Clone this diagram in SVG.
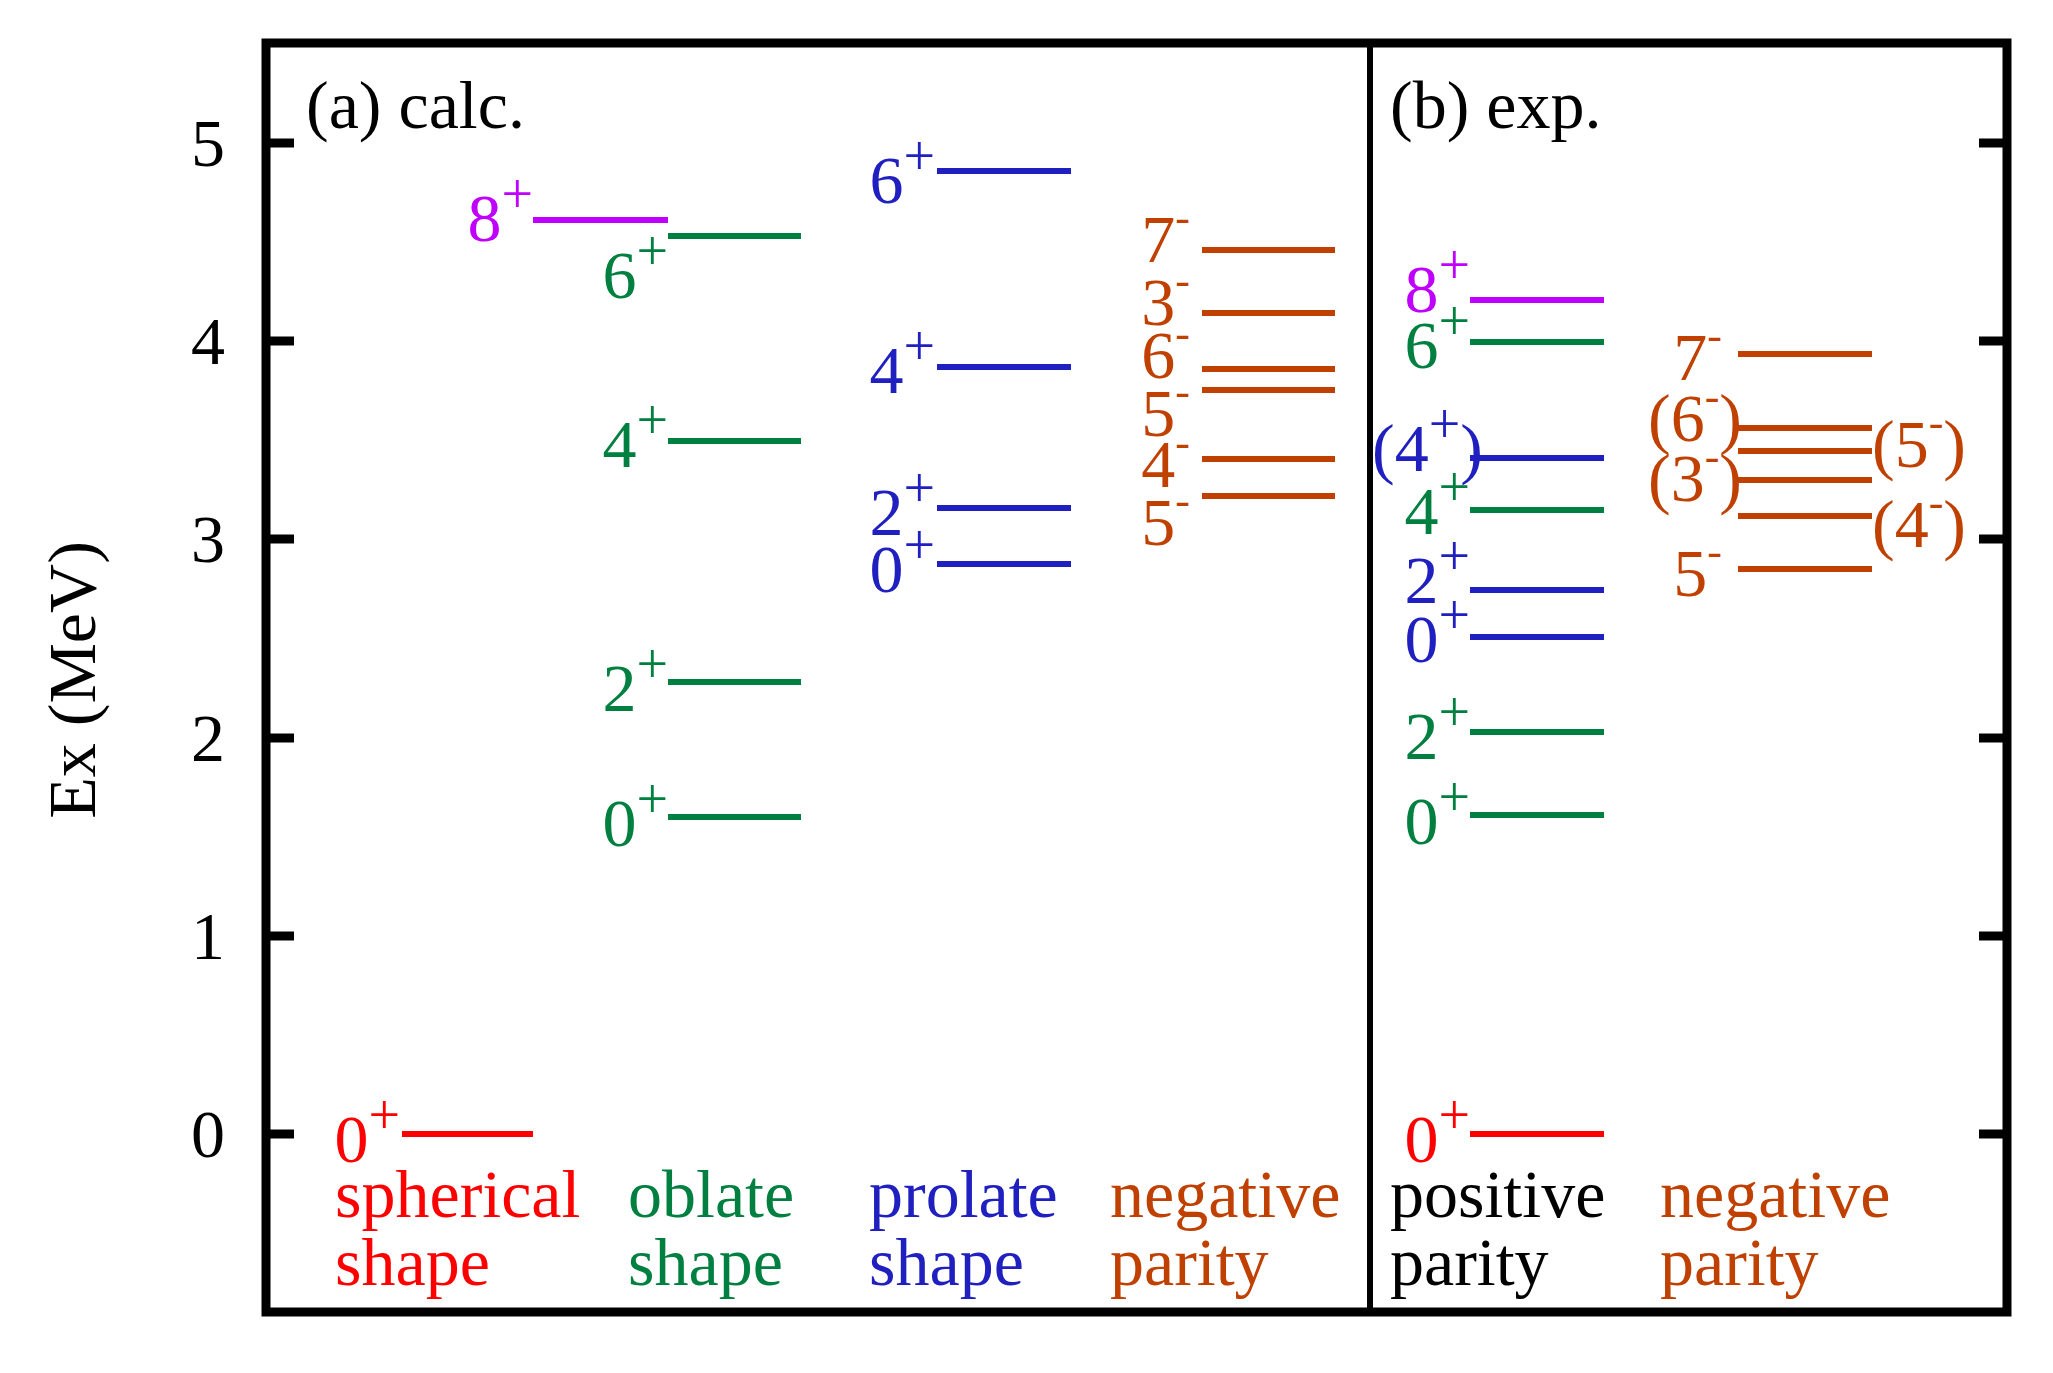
<svg xmlns="http://www.w3.org/2000/svg" width="2053" height="1373" viewBox="0 0 2053 1373">
<style>
text{font-family:"Liberation Serif","Times New Roman",serif;font-size:68px}
.s{font-size:56px}
.n{font-size:44px}
.e{text-anchor:end}
.m{text-anchor:middle}
.r{fill:#ff0000}.g{fill:#008040}.b{fill:#2020c0}.o{fill:#c04000}.p{fill:#c000ff}.k{fill:#000}
line{stroke-width:6}
.R{stroke:#ff0000}.G{stroke:#008040}.B{stroke:#2020c0}.O{stroke:#c04000}.P{stroke:#c000ff}
.t{stroke:#000;stroke-width:9}
</style>
<rect x="0" y="0" width="2053" height="1373" fill="#fff"/>
<g id="frame">
<rect x="266" y="43" width="1741" height="1269" fill="none" stroke="#000" stroke-width="9"/>
<line x1="1370" y1="43" x2="1370" y2="1312" stroke="#000" stroke-width="4"/>
<line class="t" x1="266" y1="1134" x2="294" y2="1134"/><line class="t" x1="266" y1="936" x2="294" y2="936"/>
<line class="t" x1="266" y1="738" x2="294" y2="738"/><line class="t" x1="266" y1="539" x2="294" y2="539"/>
<line class="t" x1="266" y1="341" x2="294" y2="341"/><line class="t" x1="266" y1="143" x2="294" y2="143"/>
<line class="t" x1="1979" y1="1134" x2="2007" y2="1134"/><line class="t" x1="1979" y1="936" x2="2007" y2="936"/>
<line class="t" x1="1979" y1="738" x2="2007" y2="738"/><line class="t" x1="1979" y1="539" x2="2007" y2="539"/>
<line class="t" x1="1979" y1="341" x2="2007" y2="341"/><line class="t" x1="1979" y1="143" x2="2007" y2="143"/>
<text class="m" x="208" y="1157">0</text><text class="m" x="208" y="959">1</text>
<text class="m" x="208" y="761">2</text><text class="m" x="208" y="562">3</text>
<text class="m" x="208" y="364">4</text><text class="m" x="208" y="166">5</text>
<text class="m" transform="translate(95,680) rotate(-90)">Ex (MeV)</text>
<text x="306" y="128">(a) calc.</text>
<text x="1390" y="128">(b) exp.</text>
</g>
<g id="levels">
<line class="R" x1="402" y1="1134" x2="533" y2="1134"/>
<line class="P" x1="533" y1="220" x2="668" y2="220"/>
<line class="G" x1="668" y1="236" x2="801" y2="236"/><line class="G" x1="668" y1="441" x2="801" y2="441"/>
<line class="G" x1="668" y1="682" x2="801" y2="682"/><line class="G" x1="668" y1="817" x2="801" y2="817"/>
<line class="B" x1="937" y1="171" x2="1071" y2="171"/><line class="B" x1="937" y1="367" x2="1071" y2="367"/>
<line class="B" x1="937" y1="508" x2="1071" y2="508"/><line class="B" x1="937" y1="564" x2="1071" y2="564"/>
<line class="O" x1="1202" y1="250" x2="1335" y2="250"/><line class="O" x1="1202" y1="313" x2="1335" y2="313"/>
<line class="O" x1="1202" y1="369" x2="1335" y2="369"/><line class="O" x1="1202" y1="390" x2="1335" y2="390"/>
<line class="O" x1="1202" y1="459" x2="1335" y2="459"/><line class="O" x1="1202" y1="496" x2="1335" y2="496"/>
<line class="P" x1="1470" y1="300" x2="1604" y2="300"/><line class="G" x1="1470" y1="342" x2="1604" y2="342"/>
<line class="B" x1="1470" y1="458" x2="1604" y2="458"/><line class="G" x1="1470" y1="510" x2="1604" y2="510"/>
<line class="B" x1="1470" y1="590" x2="1604" y2="590"/><line class="B" x1="1470" y1="637" x2="1604" y2="637"/>
<line class="G" x1="1470" y1="732" x2="1604" y2="732"/><line class="G" x1="1470" y1="815" x2="1604" y2="815"/>
<line class="R" x1="1470" y1="1134" x2="1604" y2="1134"/>
<line class="O" x1="1738" y1="354" x2="1872" y2="354"/><line class="O" x1="1738" y1="428" x2="1872" y2="428"/>
<line class="O" x1="1738" y1="451" x2="1872" y2="451"/><line class="O" x1="1738" y1="480" x2="1872" y2="480"/>
<line class="O" x1="1738" y1="516" x2="1872" y2="516"/><line class="O" x1="1738" y1="569" x2="1872" y2="569"/>
</g>
<g id="labels">
<text class="e r" x="400" y="1162">0<tspan class="s" dy="-28">+</tspan></text>
<text class="e p" x="533" y="241">8<tspan class="s" dy="-28">+</tspan></text>
<text class="e g" x="668" y="298">6<tspan class="s" dy="-28">+</tspan></text>
<text class="e g" x="668" y="467">4<tspan class="s" dy="-28">+</tspan></text>
<text class="e g" x="668" y="711">2<tspan class="s" dy="-28">+</tspan></text>
<text class="e g" x="668" y="846">0<tspan class="s" dy="-28">+</tspan></text>
<text class="e b" x="935" y="203">6<tspan class="s" dy="-28">+</tspan></text>
<text class="e b" x="935" y="393">4<tspan class="s" dy="-28">+</tspan></text>
<text class="e b" x="935" y="535">2<tspan class="s" dy="-28">+</tspan></text>
<text class="e b" x="935" y="592">0<tspan class="s" dy="-28">+</tspan></text>
<text class="e o" x="1190" y="262">7<tspan class="n" dy="-30">-</tspan></text>
<text class="e o" x="1190" y="325">3<tspan class="n" dy="-30">-</tspan></text>
<text class="e o" x="1190" y="378">6<tspan class="n" dy="-30">-</tspan></text>
<text class="e o" x="1190" y="436">5<tspan class="n" dy="-30">-</tspan></text>
<text class="e o" x="1190" y="487">4<tspan class="n" dy="-30">-</tspan></text>
<text class="e o" x="1190" y="545">5<tspan class="n" dy="-30">-</tspan></text>
<text class="e p" x="1470" y="312">8<tspan class="s" dy="-28">+</tspan></text>
<text class="e g" x="1470" y="368">6<tspan class="s" dy="-28">+</tspan></text>
<text class="e b" x="1483" y="471">(4<tspan class="s" dy="-28">+</tspan><tspan dy="28">)</tspan></text>
<text class="e g" x="1470" y="534">4<tspan class="s" dy="-28">+</tspan></text>
<text class="e b" x="1470" y="603">2<tspan class="s" dy="-28">+</tspan></text>
<text class="e b" x="1470" y="662">0<tspan class="s" dy="-28">+</tspan></text>
<text class="e g" x="1470" y="759">2<tspan class="s" dy="-28">+</tspan></text>
<text class="e g" x="1470" y="844">0<tspan class="s" dy="-28">+</tspan></text>
<text class="e r" x="1470" y="1162">0<tspan class="s" dy="-28">+</tspan></text>
<text class="e o" x="1722" y="380">7<tspan class="n" dy="-30">-</tspan></text>
<text class="e o" x="1742" y="441">(6<tspan class="n" dy="-30">-</tspan><tspan dy="30">)</tspan></text>
<text class="e o" x="1742" y="501">(3<tspan class="n" dy="-30">-</tspan><tspan dy="30">)</tspan></text>
<text class="e o" x="1722" y="596">5<tspan class="n" dy="-30">-</tspan></text>
<text class="o" x="1872" y="467">(5<tspan class="n" dy="-30">-</tspan><tspan dy="30">)</tspan></text>
<text class="o" x="1872" y="547">(4<tspan class="n" dy="-30">-</tspan><tspan dy="30">)</tspan></text>
</g>
<g id="captions">
<text class="r" x="335" y="1217">spherical</text><text class="r" x="335" y="1285">shape</text>
<text class="g" x="628" y="1217">oblate</text><text class="g" x="628" y="1285">shape</text>
<text class="b" x="869" y="1217">prolate</text><text class="b" x="869" y="1285">shape</text>
<text class="o" x="1110" y="1217">negative</text><text class="o" x="1110" y="1285">parity</text>
<text class="k" x="1390" y="1217">positive</text><text class="k" x="1390" y="1285">parity</text>
<text class="o" x="1660" y="1217">negative</text><text class="o" x="1660" y="1285">parity</text>
</g>
</svg>
